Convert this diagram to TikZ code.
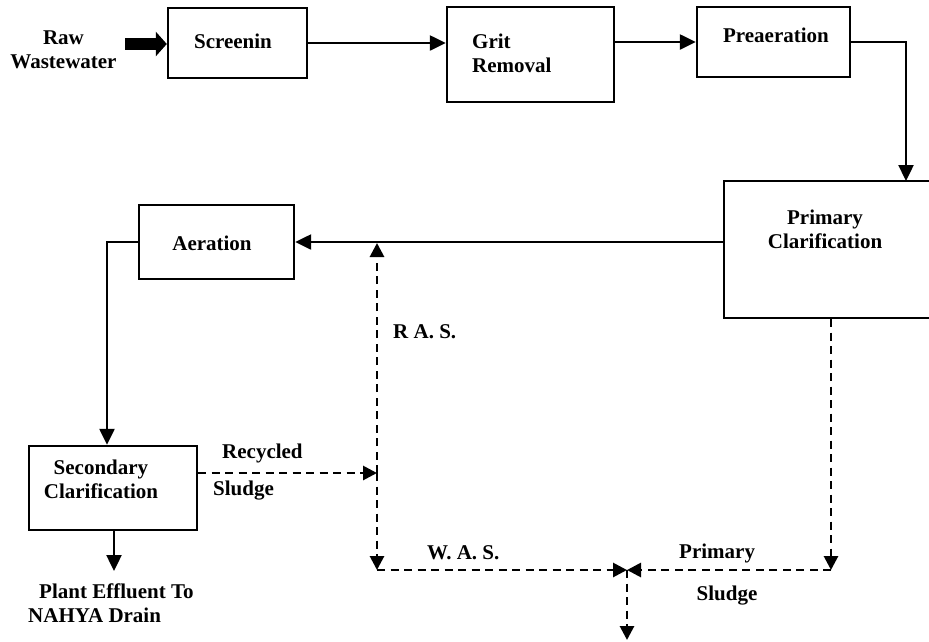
\documentclass[tikz,border=0pt]{standalone}
\usepackage{fontspec}
\setmainfont{Liberation Serif}
\usetikzlibrary{arrows.meta}
\tikzset{
  every node/.style={font=\fontsize{21}{24}\selectfont\bfseries},
  box/.style={draw, line width=2.4pt, inner sep=0pt},
  txt/.style={inner sep=0pt},
  flow/.style={line width=2.4pt, -{Triangle[length=16pt,width=15pt]}},
  dflow/.style={line width=2.8pt, -{Triangle[length=14pt,width=14pt]}, dash pattern=on 8pt off 5.5pt},
  bigflow/.style={line width=11.5pt, -{Triangle[length=11pt,width=24pt]}}
}
\begin{document}
\begin{tikzpicture}[x=1pt,y=-1pt]
\useasboundingbox (0,0) rectangle (929,641);
% boxes
\node[box, minimum width=139pt, minimum height=70pt] (scr) at (237.5,43) {};
\node[box, minimum width=167pt, minimum height=95pt] (grit) at (530.5,54.5) {};
\node[box, minimum width=153pt, minimum height=70pt] (pre) at (773.5,42) {};
\node[box, minimum width=221pt, minimum height=137pt] (prim) at (834.5,249.5) {};
\node[box, minimum width=155pt, minimum height=74pt] (aer) at (216.5,242) {};
\node[box, minimum width=168pt, minimum height=84pt] (sec) at (113,488) {};
% box texts
\node[txt] (scrt) at (233,41) {Screenin};
\node[txt, align=left, anchor=west] (gritt) at (472,53.5) {Grit\\Removal};
\node[txt] (pret) at (776,35) {Preaeration};
\node[txt, align=center] (primt) at (825,229.5) {Primary\\Clarification};
\node[txt] (aert) at (212,243) {Aeration};
\node[txt, align=center] (sect) at (101,479.5) {Secondary\\Clarification};
% free labels
\node[txt, align=center] (raw) at (63.5,49.5) {Raw\\Wastewater};
\node[txt, anchor=west] (eff1) at (39,591) {Plant Effluent To};
\node[txt, anchor=west] (eff2) at (28,615) {NAHYA Drain};
\node[txt, anchor=west] (rec1) at (222,453) {Recycled};
\node[txt, anchor=west] (rec2) at (213,491) {Sludge};
\node[txt, anchor=west] (rasl) at (393,332) {R A. S.};
\node[txt, anchor=west] (wasl) at (427,553) {W. A. S.};
\node[txt, anchor=west] (ps1) at (679,553) {Primary};
\node[txt] (ps2) at (727,596) {Sludge};
% coordinates
\coordinate (rawin) at (125,44);
\coordinate (drop) at (906,181);
\coordinate (effout) at (114,571);
\coordinate (ras) at (377,473);
\coordinate (rastop) at (377,243);
\coordinate (wasend) at (377,570);
\coordinate (junc) at (627,570);
\coordinate (psl) at (831,570);
\coordinate (sludgeout) at (627,640);
% solid connectors
\draw[bigflow] (rawin) -- (scr.west |- rawin);
\draw[flow] (scr.east) -- (scr.east -| grit.west);
\draw[flow] (grit.east |- pre.west) -- (pre.west);
\draw[flow] (pre.east) -| (drop);
\draw[flow] (prim.west |- aer.east) -- (aer.east);
\draw[flow] (aer.west) -| ([xshift=-6pt]sec.north);
\draw[flow] ([xshift=1pt]sec.south) -- (effout);
% dashed connectors
\draw[dflow] ([yshift=15pt]sec.east) -- (ras);
\draw[dflow] (ras) -- (rastop);
\draw[dflow] (ras) -- (wasend);
\draw[dflow] (wasend) -- (junc);
\draw[dflow] (psl |- prim.south) -- (psl);
\draw[dflow] (psl) -- (junc);
\draw[dflow] (junc) -- (sludgeout);
\end{tikzpicture}
\end{document}
